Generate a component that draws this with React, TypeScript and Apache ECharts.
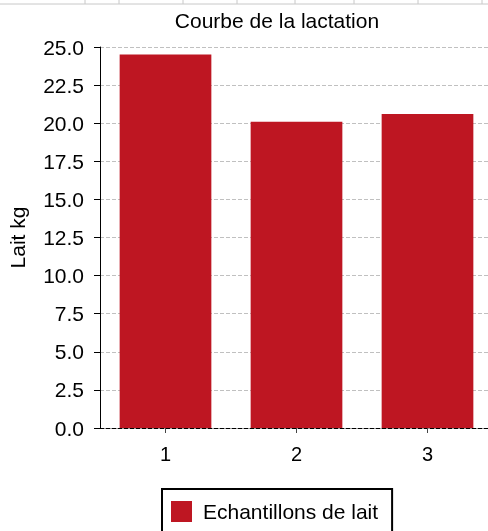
import React, { useEffect, useRef } from "react";
import * as echarts from "echarts";

const categories = ["1", "2", "3"];
const milkValues = [24.5, 20.1, 20.6];
const seriesName = "Echantillons de lait";
const titleText = "Courbe de la lactation";
const yAxisName = "Lait kg";

const FONT = "'Liberation Sans', Arial, sans-serif";
const sheetCols = [85, 119, 183, 237, 295, 354, 418, 482];

export default function App() {
  const ref = useRef<HTMLDivElement>(null);
  useEffect(() => {
    if (!ref.current) return;
    const chart = echarts.init(ref.current, null, { renderer: "svg" });
    const graphics: any[] = [
      {
        type: "line",
        shape: { x1: 0, y1: 4, x2: 488, y2: 4 },
        style: { stroke: "#c8c8c8", lineWidth: 1 },
      },
      ...sheetCols.map((x) => ({
        type: "line",
        shape: { x1: x, y1: 0, x2: x, y2: 4 },
        style: { stroke: "#c8c8c8", lineWidth: 1 },
      })),
      {
        type: "text",
        x: 277,
        y: 20,
        style: {
          text: titleText,
          fontFamily: FONT,
          fontSize: 21,
          fill: "#000",
          textAlign: "center",
          textVerticalAlign: "middle",
        },
      },
    ];
    chart.setOption({
      animation: false,
      textStyle: { fontFamily: FONT },
      graphic: graphics,
      grid: {
        left: 100,
        width: 393,
        top: 47,
        height: 381,
        containLabel: false,
        outerBoundsMode: "none",
      },
      legend: {
        left: 162,
        top: 489,
        orient: "horizontal",
        icon: "rect",
        itemWidth: 21,
        itemHeight: 21,
        itemGap: 10,
        borderColor: "#000",
        borderWidth: 2,
        padding: [12, 14, 12, 9],
        textStyle: {
          fontFamily: FONT,
          fontSize: 21,
          color: "#000",
          padding: [0, 0, 0, 6],
        },
        data: [seriesName],
      },
      xAxis: {
        type: "category",
        data: categories,
        axisLine: { show: true, lineStyle: { color: "#000", type: "dashed", width: 1 } },
        axisTick: { show: true, alignWithLabel: true, length: 5, lineStyle: { color: "#444" } },
        axisLabel: { fontFamily: FONT, fontSize: 20, color: "#000", margin: 16 },
        splitLine: { show: false },
      },
      yAxis: {
        type: "value",
        min: 0,
        max: 25,
        interval: 2.5,
        name: yAxisName,
        nameLocation: "middle",
        nameGap: 72,
        nameRotate: 90,
        nameTextStyle: { fontFamily: FONT, fontSize: 21, color: "#000" },
        axisLine: { show: true, lineStyle: { color: "#000", width: 1 } },
        axisTick: { show: true, length: 6, lineStyle: { color: "#000" } },
        axisLabel: {
          fontFamily: FONT,
          fontSize: 21,
          color: "#000",
          margin: 16,
          formatter: (v: number) => v.toFixed(1),
        },
        splitLine: { show: true, lineStyle: { color: "#c0c0c0", type: "dashed" } },
      },
      series: [
        {
          name: seriesName,
          type: "bar",
          data: milkValues,
          barWidth: "70%",
          itemStyle: { color: "#be1622" },
        },
      ],
    });
    return () => chart.dispose();
  }, []);
  return (
    <div
      ref={ref}
      style={{ position: "fixed", left: 0, top: 0, width: 488, height: 531 }}
    />
  );
}
